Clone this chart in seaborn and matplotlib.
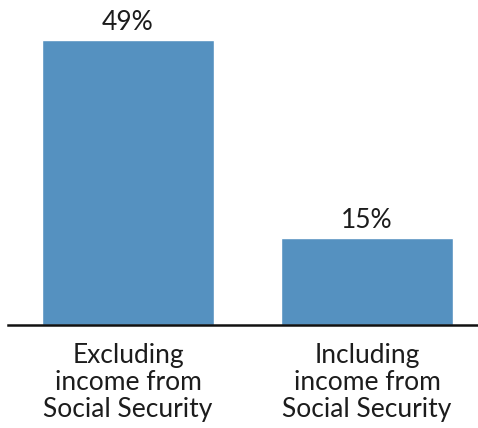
import matplotlib
matplotlib.use("Agg")
import matplotlib.pyplot as plt
import seaborn as sns
import pandas as pd

categories = ["Excluding\nincome from\nSocial Security", "Including\nincome from\nSocial Security"]
values = [49, 15]
value_labels = ["49%", "15%"]

sns.set_theme(style="white")
plt.rcParams["font.family"] = ["Lato", "DejaVu Sans"]

df = pd.DataFrame({"category": categories, "share": values})

fig = plt.figure(figsize=(4.78, 4.28), dpi=100)
ax = fig.add_axes([8 / 478, 103 / 428, 470 / 478, 325 / 428])

sns.barplot(data=df, x="category", y="share", color="#5591c0", saturation=1,
            width=0.72, ax=ax)

ax.set_xlim(-0.502, 1.464)
ax.set_ylim(0, 55.8)

ax.bar_label(ax.containers[0], labels=value_labels, padding=3,
             fontsize=19, color="#1c1c1c", fontweight="normal")

for side in ["left", "right", "top"]:
    ax.spines[side].set_visible(False)
ax.spines["bottom"].set_color("#111111")
ax.spines["bottom"].set_linewidth(1.8)

ax.set_yticks([])
ax.set_xlabel("")
ax.set_ylabel("")
ax.tick_params(axis="x", length=0, pad=13)
for lbl in ax.get_xticklabels():
    lbl.set_fontsize(19)
    lbl.set_fontweight("normal")
    lbl.set_color("#1c1c1c")
    lbl.set_linespacing(1.1)

fig.savefig("out.png", dpi=100)
